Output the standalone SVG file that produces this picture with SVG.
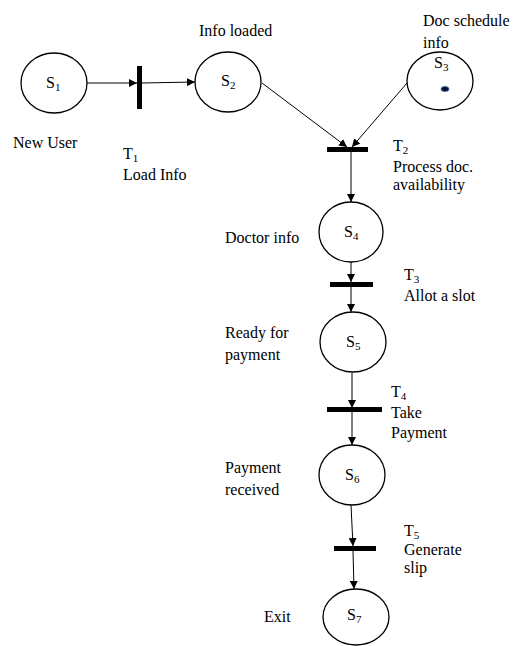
<svg xmlns="http://www.w3.org/2000/svg" width="515" height="646" viewBox="0 0 515 646">
<style>
text{font-family:"Liberation Serif","Times New Roman",serif;font-size:16px;fill:#000}
.sub{font-size:11px}
.place{fill:#fff;stroke:#000;stroke-width:1.3}
.bar{fill:#000}
.arc{stroke:#000;stroke-width:1;fill:none;marker-end:url(#ah)}
</style>
<defs>
<marker id="ah" viewBox="0 0 10 10" refX="10" refY="5" markerWidth="8" markerHeight="8" markerUnits="userSpaceOnUse" orient="auto">
<path d="M0,0 L10,5 L0,10 z" fill="#000"/>
</marker>
</defs>
<rect width="515" height="646" fill="#fff"/>
<g id="connectors">
<line class="arc" x1="87" y1="83" x2="137" y2="83"/>
<line class="arc" x1="142" y1="83" x2="195" y2="82"/>
<line class="arc" x1="262" y1="83" x2="347" y2="147"/>
<line class="arc" x1="407" y1="83" x2="352" y2="147"/>
<line class="arc" x1="351" y1="152" x2="351" y2="202"/>
<line class="arc" x1="351" y1="262" x2="351" y2="282"/>
<line class="arc" x1="351" y1="287" x2="351" y2="312"/>
<line class="arc" x1="352" y1="373" x2="352" y2="408"/>
<line class="arc" x1="352" y1="412" x2="352" y2="445"/>
<line class="arc" x1="351" y1="505" x2="353" y2="546"/>
<line class="arc" x1="353" y1="551" x2="354" y2="589"/>
</g>
<g id="S1"><ellipse class="place" cx="54" cy="83" rx="33" ry="30"/><text x="46" y="88">S<tspan class="sub" dy="3">1</tspan></text><text x="13" y="148">New User</text></g>
<g id="T1"><rect class="bar" x="137" y="66" width="5" height="43"/><text x="123" y="159">T<tspan class="sub" dy="3">1</tspan></text><text x="123" y="180">Load Info</text></g>
<g id="S2"><ellipse class="place" cx="228" cy="82" rx="33" ry="30"/><text x="221" y="86">S<tspan class="sub" dy="3">2</tspan></text><text x="199" y="36">Info loaded</text></g>
<g id="S3"><ellipse class="place" cx="440" cy="81" rx="33" ry="29"/><text x="434" y="68">S<tspan class="sub" dy="3">3</tspan></text><ellipse cx="445" cy="89" rx="4" ry="2.5" fill="#0a1030" stroke="#3a6ab0" stroke-width="0.8"/><text x="423" y="26">Doc schedule</text><text x="423" y="48">info</text></g>
<g id="T2"><rect class="bar" x="327" y="147" width="41" height="5"/><text x="393" y="151">T<tspan class="sub" dy="3">2</tspan></text><text x="393" y="172">Process doc.</text><text x="393" y="190">availability</text></g>
<g id="S4"><ellipse class="place" cx="351" cy="232" rx="32" ry="30"/><text x="344" y="237">S<tspan class="sub" dy="3">4</tspan></text><text x="225" y="243">Doctor info</text></g>
<g id="T3"><rect class="bar" x="330" y="282" width="43" height="5"/><text x="404" y="280">T<tspan class="sub" dy="3">3</tspan></text><text x="404" y="301">Allot a slot</text></g>
<g id="S5"><ellipse class="place" cx="353" cy="342" rx="33" ry="30"/><text x="346" y="347">S<tspan class="sub" dy="3">5</tspan></text><text x="225" y="338">Ready for</text><text x="225" y="360">payment</text></g>
<g id="T4"><rect class="bar" x="327" y="407" width="55" height="5"/><text x="391" y="397">T<tspan class="sub" dy="3">4</tspan></text><text x="391" y="418">Take</text><text x="391" y="438">Payment</text></g>
<g id="S6"><ellipse class="place" cx="352" cy="475" rx="33" ry="30"/><text x="345" y="480">S<tspan class="sub" dy="3">6</tspan></text><text x="225" y="473">Payment</text><text x="225" y="495">received</text></g>
<g id="T5"><rect class="bar" x="334" y="546" width="42" height="5"/><text x="404" y="536">T<tspan class="sub" dy="3">5</tspan></text><text x="404" y="555">Generate</text><text x="404" y="573">slip</text></g>
<g id="S7"><ellipse class="place" cx="356" cy="617" rx="33" ry="28"/><text x="347" y="620">S<tspan class="sub" dy="3">7</tspan></text><text x="264" y="622">Exit</text></g>
</svg>
